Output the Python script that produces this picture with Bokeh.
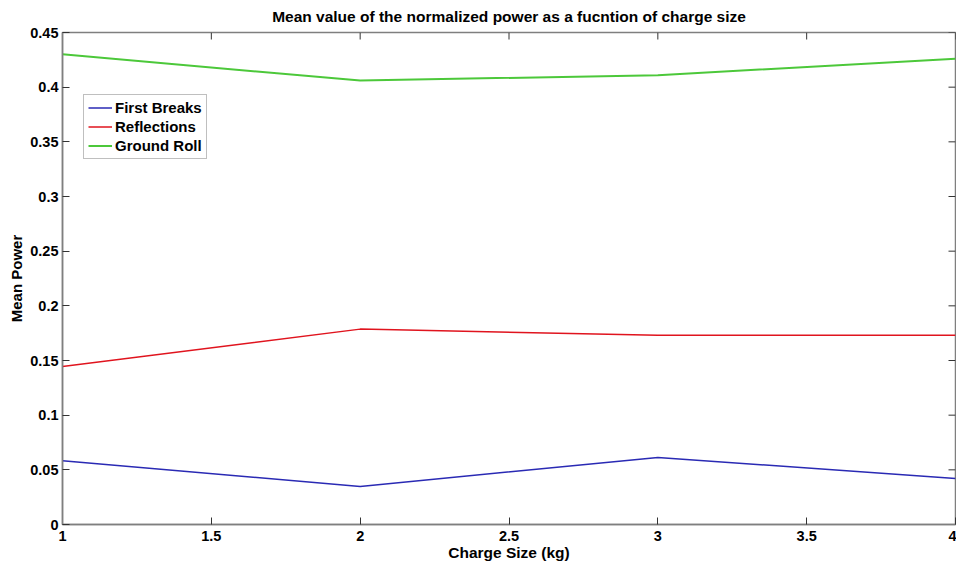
import math
from bokeh.plotting import figure
from bokeh.models import Range1d, FixedTicker, Legend, LegendItem
from bokeh.embed import file_html
from bokeh.resources import INLINE

charge_size = [1, 2, 3, 4]
first_breaks = [0.0583, 0.0348, 0.0613, 0.0421]
reflections = [0.1446, 0.1787, 0.1730, 0.1730]
ground_roll = [0.4300, 0.4060, 0.4110, 0.4260]

x_ticks = [1, 1.5, 2, 2.5, 3, 3.5, 4]
x_tick_labels = ["1", "1.5", "2", "2.5", "3", "3.5", "4"]
y_ticks = [0, 0.05, 0.1, 0.15, 0.2, 0.25, 0.3, 0.35, 0.4, 0.45]
y_tick_labels = ["0", "0.05", "0.1", "0.15", "0.2", "0.25", "0.3", "0.35", "0.4", "0.45"]

FONT = "Liberation Sans"
AX = "#7f7f7f"
TICK = "#333333"

p = figure(width=956, height=565, output_backend="svg", toolbar_location=None,
           x_range=Range1d(x_ticks[0], x_ticks[-1]), y_range=Range1d(y_ticks[0], y_ticks[-1]),
           min_border_left=62, min_border_right=1, min_border_top=32, min_border_bottom=41,
           x_axis_label="Charge Size (kg)", y_axis_label="Mean Power")
p.background_fill_color = "white"
p.border_fill_color = "white"
p.outline_line_color = AX
p.outline_line_width = 1.5
p.xgrid.visible = False
p.ygrid.visible = False

p.title.text = "Mean value of the normalized power as a fucntion of charge size"
p.title.align = "center"
p.title.vertical_align = "top"
p.title.text_font = FONT
p.title.text_font_size = "15.5px"
p.title.text_font_style = "bold"
p.title.text_color = "black"
p.title.offset = 0
p.title.standoff = 12

def style_axis(ax, ticks, labels, tick_size, label_size):
    ax.ticker = FixedTicker(ticks=ticks)
    ax.major_label_overrides = {t: l for t, l in zip(ticks, labels)}
    ax.axis_line_color = AX
    ax.axis_line_width = 1.5
    ax.major_tick_line_color = TICK
    ax.major_tick_in = 7
    ax.major_tick_out = 0
    ax.minor_tick_line_color = None
    ax.major_label_text_font = FONT
    ax.major_label_text_font_size = tick_size
    ax.major_label_text_font_style = "bold"
    ax.major_label_text_color = "black"
    ax.axis_label_text_font = FONT
    ax.axis_label_text_font_size = label_size
    ax.axis_label_text_font_style = "bold"
    ax.axis_label_text_color = "black"

style_axis(p.xaxis[0], x_ticks, x_tick_labels, "14.5px", "15.5px")
p.xaxis[0].major_label_standoff = 6
p.xaxis[0].axis_label_standoff = 0
style_axis(p.yaxis[0], y_ticks, y_tick_labels, "14.5px", "15px")
p.yaxis[0].major_label_standoff = 4
p.yaxis[0].axis_label_standoff = 2

# inward ticks on the top and right edges of the box
p.ray(x=x_ticks, y=[y_ticks[-1]] * len(x_ticks), length=7, length_units="screen",
      angle=-math.pi / 2, line_color=TICK, line_width=1)
p.ray(x=[x_ticks[-1]] * len(y_ticks), y=y_ticks, length=7, length_units="screen",
      angle=math.pi, line_color=TICK, line_width=1)

r1 = p.line(charge_size, first_breaks, line_color="#2a2ab4", line_width=1.5)
r2 = p.line(charge_size, reflections, line_color="#e0141e", line_width=1.5)
r3 = p.line(charge_size, ground_roll, line_color="#4cc83a", line_width=2)

legend = Legend(items=[LegendItem(label="First Breaks", renderers=[r1]),
                       LegendItem(label="Reflections", renderers=[r2]),
                       LegendItem(label="Ground Roll", renderers=[r3])],
                location=(21, 365))
legend.label_text_font = FONT
legend.label_text_font_size = "15px"
legend.label_text_font_style = "bold"
legend.label_text_color = "black"
legend.label_height = 17
legend.glyph_height = 17
legend.glyph_width = 24
legend.label_standoff = 3
legend.spacing = 2
legend.padding = 4
legend.margin = 0
legend.border_line_color = AX
legend.border_line_width = 1.5
legend.background_fill_alpha = 1
p.add_layout(legend, "center")

open("out.html", "w").write(file_html(p, INLINE))
